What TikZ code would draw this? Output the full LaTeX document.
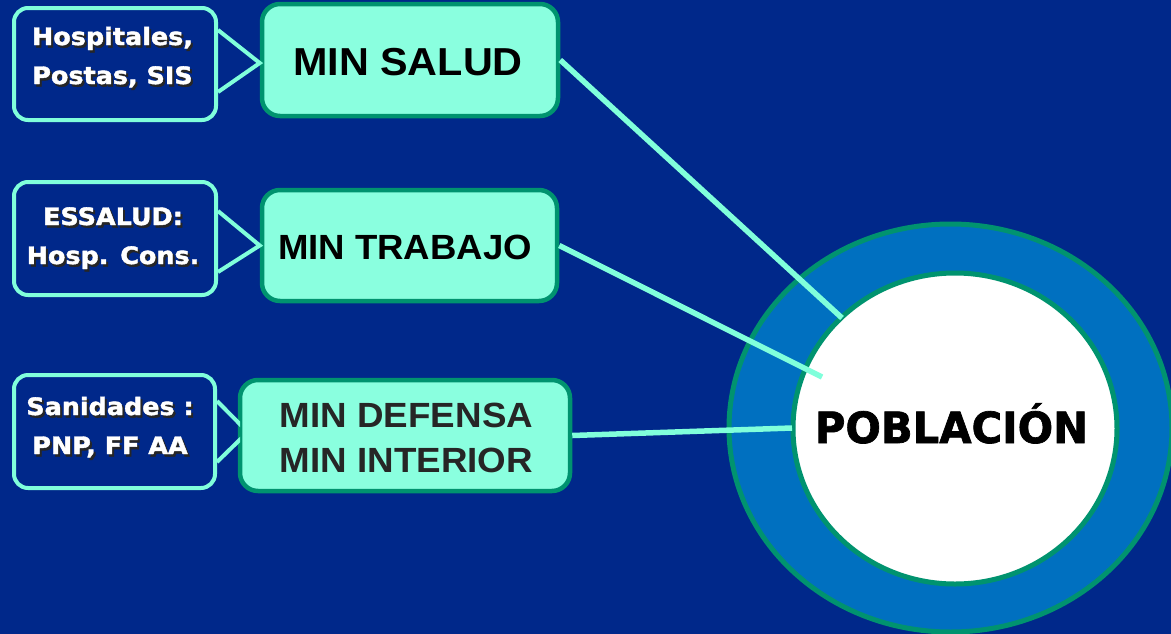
\documentclass[tikz,border=0pt]{standalone}
\usepackage{fontspec}
\usepackage{graphicx}
\setmainfont{Liberation Sans}
\newfontfamily\heavy{DejaVu Sans}[BoldFeatures={FakeBold=1.6}]
\usetikzlibrary{shapes.geometric,calc}
\definecolor{bgdark}{HTML}{00288A}
\definecolor{bgmid}{HTML}{003399}
\definecolor{aqua}{HTML}{80FFDB}
\definecolor{boxfill}{HTML}{8AFFDF}
\definecolor{tealedge}{HTML}{00936F}
\definecolor{ringblue}{HTML}{0070C0}
\definecolor{darktext}{HTML}{262626}
\newcommand\shadowed[1]{\leavevmode\rlap{\kern2pt\raisebox{-2.5pt}{\textcolor{black!85}{#1}}}#1}
\newcommand\twolines[2]{\scalebox{1.06}[1]{\begin{tabular}[t]{@{}c@{}}#1\\#2\end{tabular}}}
\tikzset{
  callout/.style={draw=aqua, line width=4pt, rounded corners=14pt, inner sep=0pt},
  ptr/.style={draw=aqua, line width=4pt, line join=miter},
  mbox/.style={draw=tealedge, fill=boxfill, line width=4.5pt, rounded corners=18pt, inner sep=0pt},
  conn/.style={draw=aqua, line width=5.5pt},
  ctext/.style={font=\heavy\bfseries\fontsize{24}{39}\selectfont, inner sep=0pt, anchor=base, text=white},
  mtext/.style={font=\bfseries\fontsize{35}{45}\selectfont, inner sep=0pt, anchor=base},
}
\begin{document}
\begin{tikzpicture}[x=1pt,y=-1pt]
\path[use as bounding box, top color=bgdark, middle color=bgmid, bottom color=bgdark] (0,0) rectangle (1171,633);

% population circles
\node[ellipse, draw=tealedge, fill=ringblue, line width=5pt, minimum width=443pt, minimum height=408pt, inner sep=0pt] (ring) at (950.5,428) {};
\node[ellipse, draw=tealedge, fill=white, line width=5pt, minimum width=324pt, minimum height=311pt, inner sep=0pt] (pop) at (955,428.5) {};
\node[font=\heavy\bfseries\fontsize{43}{50}\selectfont, inner sep=0pt, anchor=base] (ptxt) at (951.5,443) {\scalebox{0.97}[1]{POBLACIÓN}};

% boxes
\node[mbox, minimum width=296pt, minimum height=112pt] (m1) at (410,60) {};
\node[mbox, minimum width=295pt, minimum height=111pt] (m2) at (409.5,245.5) {};
\node[mbox, minimum width=330pt, minimum height=111pt] (m3) at (405,435.5) {};

% connectors
\coordinate (e1) at (842,318);
\coordinate (e2) at (822,377);
\coordinate (e3) at (792,428);
\draw[conn] (m1.east) -- (e1);
\draw[conn] (m2.east) -- (e2);
\draw[conn] (m3.east) -- (e3);

% box texts
\node[mtext] (mt1) at (408,75) {\fontsize{39}{45}\selectfont\scalebox{1.06}[1]{MIN SALUD}};
\node[mtext] (mt2) at (405,259) {\scalebox{1.045}[1]{MIN TRABAJO}};
\node[mtext, text=darktext] (mt3) at (406.5,427) {\scalebox{1.05}[1]{\begin{tabular}[t]{@{}c@{}}MIN DEFENSA\\MIN INTERIOR\end{tabular}}};

% callouts
\node[callout, minimum width=202pt, minimum height=112pt] (c1) at (115,64) {};
\node[callout, minimum width=202pt, minimum height=113pt] (c2) at (115,238.5) {};
\node[callout, minimum width=201pt, minimum height=113pt] (c3) at (114.5,431.5) {};

\draw[ptr] ($(c1.north east)+(0,24)$) -- ($(m1.west)+(0,3)$) -- ($(c1.south east)+(0,-30)$);
\draw[ptr] ($(c2.north east)+(0,31)$) -- (m2.west) -- ($(c2.south east)+(0,-25)$);
\begin{scope}
\clip (0,0) rectangle (240,633);
\draw[ptr] ($(c3.north east)+(0,28)$) -- ($(m3.west)+(10,-3.5)$) -- ($(c3.south east)+(0,-28)$);
\end{scope}

% callout texts with drop shadow
\node[ctext] (t1) at (112.5,45) {\shadowed{\twolines{Hospitales,}{Postas, SIS}}};
\node[ctext] (t2) at (113,225) {\shadowed{\twolines{ESSALUD:}{Hosp. Cons.}}};
\node[ctext] (t3) at (110,415) {\shadowed{\twolines{Sanidades :}{PNP, FF AA}}};
\end{tikzpicture}
\end{document}
